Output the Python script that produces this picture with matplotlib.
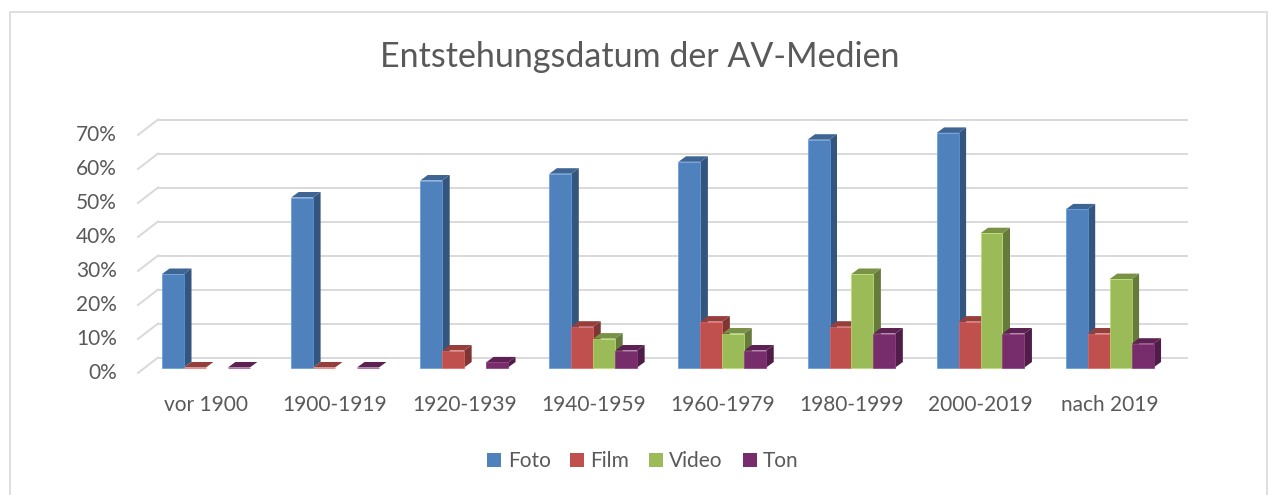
import numpy as np
import matplotlib.pyplot as plt
from matplotlib.patches import Polygon, Rectangle, Patch
from matplotlib.colors import to_rgb

plt.rcParams['font.family'] = ['Lato', 'DejaVu Sans']

# Daten (in Prozent)
categories = ["vor 1900", "1900-1919", "1920-1939", "1940-1959",
              "1960-1979", "1980-1999", "2000-2019", "nach 2019"]
foto = [27.5, 50, 55, 57, 60.5, 67, 69, 46.5]
film = [0, 0, 5, 12, 13.5, 12, 13.5, 10]
video = [np.nan, np.nan, np.nan, 8.5, 10, 27.5, 39.5, 26]
ton = [0, 0, 1.5, 5, 5, 10, 10, 7]
series_names = ["Foto", "Film", "Video", "Ton"]
series = [foto, film, video, ton]
colors = ["#4F81BD", "#C0504D", "#9BBB59", "#772C6B"]
yticks = [0, 10, 20, 30, 40, 50, 60, 70]

W, H = 1272, 495
txt = "#595959"
grid_c = "#D9D9D9"

fig = plt.figure(figsize=(W / 100, H / 100), dpi=100)

# Frontebene der Balken in Pixeln
px_left, px_right = 141.4, 1174.2
px_bottom, px_top = 367.5, 129.5
ax = fig.add_axes([px_left / W, 1 - px_bottom / H,
                   (px_right - px_left) / W, (px_bottom - px_top) / H])
ax.set_xlim(-0.5, len(categories) - 0.5)
ax.set_ylim(0, 70)
ax.axis("off")

px_x = (px_right - px_left) / len(categories)
px_y = (px_bottom - px_top) / 70.0


def dx(p):
    return p / px_x


def dy(p):
    return p / px_y


def px2x(p):
    return (p - px_left) / px_x - 0.5


def shade(c, f):
    r, g, b = to_rgb(c)
    return (min(r * f, 1), min(g * f, 1), min(b * f, 1))


# Rueckwand-Gitterlinien und Seitenwand
for v in yticks:
    ax.plot([px2x(158), px2x(1188)], [v + dy(10), v + dy(10)],
            color=grid_c, lw=1.4, zorder=0, clip_on=False, solid_capstyle="butt")
    ax.plot([px2x(138), px2x(158)], [v - dy(5.5), v + dy(10)],
            color=grid_c, lw=1.4, zorder=0, clip_on=False)
    ax.text(px2x(117), v - dy(5.5), f"{v}%", ha="right", va="center",
            fontsize=15, color=txt, clip_on=False)

# 3D-Balken
bw = 0.17
ddx, ddy = dx(7.5), dy(5.5)
x = np.arange(len(categories))
for k, (vals, c) in enumerate(zip(series, colors)):
    vals = np.array(vals, dtype=float)
    xs = x + (k - 1.5) * bw
    ok = ~np.isnan(vals)
    ax.bar(xs[ok], vals[ok], width=bw, color=c, edgecolor=shade(c, 1.2),
           linewidth=0.5, zorder=3 + 2 * k, clip_on=False)
    for xi, v in zip(xs[ok], vals[ok]):
        x0, x1 = xi - bw / 2, xi + bw / 2
        side = Polygon([(x1, 0), (x1 + ddx, ddy), (x1 + ddx, v + ddy), (x1, v)],
                       closed=True, facecolor=shade(c, 0.66), edgecolor="none",
                       zorder=2 + 2 * k, clip_on=False)
        top = Polygon([(x0, v), (x0 + ddx, v + ddy), (x1 + ddx, v + ddy), (x1, v)],
                      closed=True, facecolor=shade(c, 0.78), edgecolor="none",
                      zorder=2 + 2 * k, clip_on=False)
        ax.add_patch(side)
        ax.add_patch(top)

for xi, lab in zip(x, categories):
    ax.text(xi, -dy(405 - px_bottom), lab, ha="center", va="center",
            fontsize=15, color=txt, clip_on=False)

fig.text(640 / W, 1 - 57 / H, "Entstehungsdatum der AV-Medien",
         ha="center", va="center", fontsize=24.5, color=txt)

handles = [Patch(facecolor=c, edgecolor="none") for c in colors]
fig.legend(handles, series_names, loc="center", bbox_to_anchor=(643 / W, 1 - 461 / H),
           ncol=4, frameon=False, fontsize=15, labelcolor=txt,
           handlelength=0.67, handleheight=0.67, handletextpad=0.3,
           columnspacing=0.95)

fig.patches.append(Rectangle((10 / W, -0.05), (1267 - 10) / W, 1.05 - 12 / H,
                             transform=fig.transFigure, fill=False,
                             edgecolor=grid_c, lw=1.2))

fig.savefig("out.png", dpi=100, facecolor="white")
